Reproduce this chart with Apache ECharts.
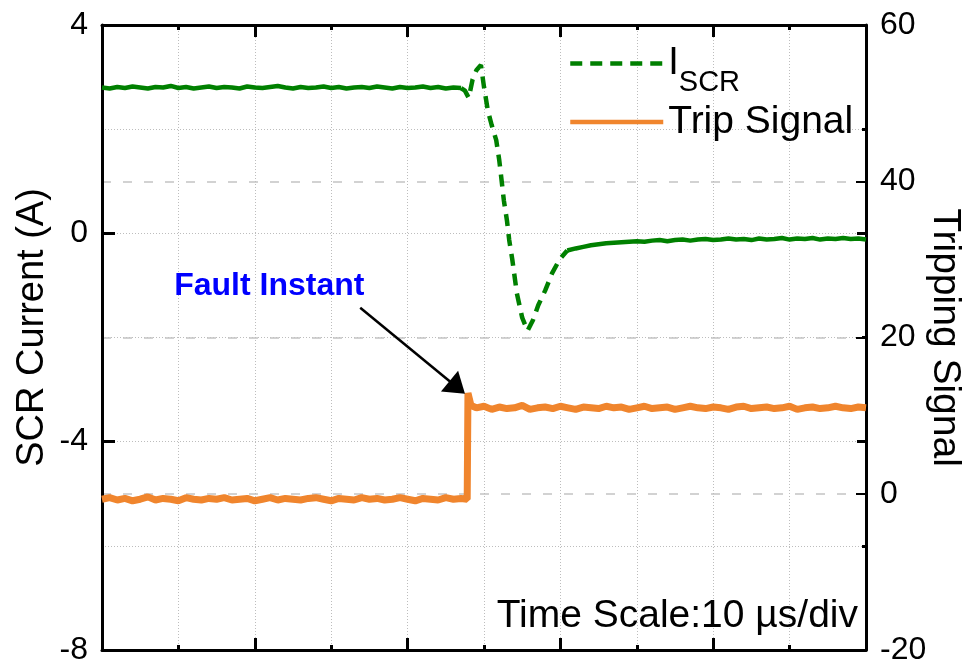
<!DOCTYPE html>
<html>
<head>
<meta charset="utf-8">
<script src="https://cdn.jsdelivr.net/npm/echarts@6.0.0/dist/echarts.min.js"></script>
<style>
html,body{margin:0;padding:0;background:#fff;}
#chart{width:976px;height:664px;}
</style>
</head>
<body>
<div id="chart"></div>
<script>
// ---- Data (time in µs, 10 µs/div) ----
// I_SCR (A) before the fault
const iscrPre = [
  [0,2.80],[1,2.78],[2,2.81],[3,2.79],[4,2.82],[5,2.80],[6,2.78],[7,2.81],[8,2.80],[9,2.83],
  [10,2.79],[11,2.81],[12,2.78],[13,2.80],[14,2.82],[15,2.79],[16,2.81],[17,2.80],[18,2.78],[19,2.82],
  [20,2.80],[21,2.79],[22,2.81],[23,2.83],[24,2.80],[25,2.78],[26,2.81],[27,2.79],[28,2.80],[29,2.82],
  [30,2.79],[31,2.81],[32,2.78],[33,2.80],[34,2.81],[35,2.79],[36,2.82],[37,2.80],[38,2.78],[39,2.81],
  [40,2.79],[41,2.80],[42,2.82],[43,2.79],[44,2.81],[45,2.78],[46,2.80],[47,2.79]
];
// I_SCR (A) during the fault transient
const iscrFault = [
  [47,2.79],[47.5,2.74],[48,2.60],[48.5,2.95],[49,3.13],[49.6,3.23],[50,2.81],[50.5,2.36],
  [51,2.08],[51.6,1.79],[52,1.40],[52.3,1.02],[52.6,0.63],[53,0.25],[53.3,-0.13],[53.7,-0.50],
  [54.3,-1.15],[55,-1.62],[55.7,-1.87],[56.4,-1.67],[57.1,-1.38],[58,-1.10],[58.9,-0.77],
  [59.9,-0.50],[60.9,-0.33]
];
// I_SCR (A) after the transient
const iscrPost = [
  [60.9,-0.33],[62,-0.29],[63,-0.26],[64,-0.23],[65,-0.21],[66,-0.19],[67,-0.18],[68,-0.17],[69,-0.16],
  [70,-0.15],[71,-0.16],[72,-0.14],[73,-0.13],[74,-0.15],[75,-0.13],[76,-0.12],[77,-0.14],[78,-0.12],
  [79,-0.11],[80,-0.13],[81,-0.12],[82,-0.10],[83,-0.12],[84,-0.11],[85,-0.13],[86,-0.10],[87,-0.12],
  [88,-0.11],[89,-0.09],[90,-0.12],[91,-0.10],[92,-0.11],[93,-0.09],[94,-0.12],[95,-0.10],[96,-0.11],
  [97,-0.09],[98,-0.11],[99,-0.10],[100,-0.12]
];
// Trip signal (right axis)
const tripSignal = [
  [0,-0.7],[1,-0.5],[2,-0.8],[3,-0.6],[4,-0.9],[5,-0.7],[6,-0.4],[7,-0.8],[8,-0.6],[9,-0.7],
  [10,-0.9],[11,-0.5],[12,-0.7],[13,-0.8],[14,-0.6],[15,-0.7],[16,-0.5],[17,-0.8],[18,-0.7],[19,-0.6],
  [20,-0.9],[21,-0.7],[22,-0.5],[23,-0.8],[24,-0.6],[25,-0.7],[26,-0.8],[27,-0.6],[28,-0.5],[29,-0.7],
  [30,-0.9],[31,-0.6],[32,-0.7],[33,-0.8],[34,-0.5],[35,-0.7],[36,-0.6],[37,-0.8],[38,-0.7],[39,-0.5],
  [40,-0.7],[41,-0.9],[42,-0.6],[43,-0.7],[44,-0.8],[45,-0.5],[46,-0.7],[47,-0.6],[47.8,-0.7],
  [47.9,12.9],[48.3,11.3],
  [49,11.0],[50,11.2],[51,10.8],[52,11.1],[53,10.9],[54,11.0],[55,11.3],[56,10.8],[57,11.0],[58,11.1],
  [59,10.9],[60,11.2],[61,11.0],[62,10.8],[63,11.1],[64,11.0],[65,10.9],[66,11.2],[67,11.0],[68,11.1],
  [69,10.8],[70,11.0],[71,11.2],[72,10.9],[73,11.0],[74,11.1],[75,10.8],[76,11.0],[77,11.2],[78,11.0],
  [79,10.9],[80,11.1],[81,11.0],[82,10.8],[83,11.1],[84,11.2],[85,10.9],[86,11.0],[87,11.1],[88,10.9],
  [89,11.0],[90,11.2],[91,10.8],[92,11.0],[93,11.1],[94,10.9],[95,11.0],[96,11.2],[97,11.0],[98,10.9],
  [99,11.1],[100,11.0]
];
// Axis ranges / ticks
const xRange = [0, 100];        // 10 µs per division
const leftRange = [-8, 4];      // SCR current (A)
const rightRange = [-20, 60];   // Tripping signal
// Annotation (in data units: time, tripping-signal axis)
const faultLabelAt = [21.9, 26.6];
const faultArrowFrom = [33.8, 23.8];
const faultArrowTo = [46.5, 13.6];

const FONT = 'Liberation Sans, Arial, Helvetica, sans-serif';
const GREEN = '#008000';
const ORANGE = '#F0852D';
const dotted = {color:'#bdbdbd', width:1, type:[1,2]};
const gridBox = {left:102, right:110, top:25, bottom:14, outerBoundsMode:'none', containLabel:false};

const chart = echarts.init(document.getElementById('chart'), null, {renderer:'canvas'});

const xBase = {
  type:'value', min:xRange[0], max:xRange[1], interval:20,
  axisLine:{show:true, onZero:false, lineStyle:{color:'#000', width:3}},
  axisTick:{show:true, inside:true, length:12, lineStyle:{color:'#000', width:3}},
  minorTick:{show:true, splitNumber:2, length:5, lineStyle:{color:'#000', width:3}},
  axisLabel:{show:false}
};

const option = {
  animation:false,
  backgroundColor:'#fff',
  grid:[Object.assign({}, gridBox), Object.assign({}, gridBox)],
  legend:[
    {
      data:['ISCR'], orient:'vertical', left:568, top:30, padding:0,
      itemWidth:93, itemHeight:14, itemGap:0, selectedMode:false,
      itemStyle:{opacity:0}, lineStyle:{width:4.5},
      formatter:function(){ return '{i|I}{s|SCR}'; },
      textStyle:{color:'#000', fontFamily:FONT, fontSize:38,
        rich:{
          i:{fontSize:38, lineHeight:40, fontFamily:FONT, color:'#000'},
          s:{fontSize:29, lineHeight:28, padding:[38,0,0,0], fontFamily:FONT, color:'#000'}
        }}
    },
    {
      data:['Trip Signal'], orient:'vertical', left:568, top:102, padding:0,
      itemWidth:93, itemHeight:14, itemGap:0, selectedMode:false,
      itemStyle:{opacity:0}, lineStyle:{width:4.5},
      textStyle:{color:'#000', fontFamily:FONT, fontSize:39, lineHeight:40}
    }
  ],
  xAxis:[
    Object.assign({}, xBase, {
      gridIndex:0, position:'bottom',
      splitLine:{show:true, lineStyle:dotted},
      minorSplitLine:{show:true, lineStyle:dotted}
    }),
    Object.assign({}, xBase, {
      gridIndex:0, position:'top',
      splitLine:{show:false}, minorSplitLine:{show:false}
    }),
    {type:'value', gridIndex:1, min:xRange[0], max:xRange[1], show:false,
      axisLine:{onZero:false}}
  ],
  yAxis:[
    {
      type:'value', gridIndex:0, position:'left', min:leftRange[0], max:leftRange[1], interval:4,
      name:'SCR Current (A)', nameLocation:'middle', nameGap:50, nameRotate:90, nameMoveOverlap:false,
      nameTextStyle:{fontSize:38, fontFamily:FONT, color:'#000', padding:[0,0,0,20]},
      axisLine:{show:true, onZero:false, lineStyle:{color:'#000', width:3}},
      axisTick:{show:true, inside:true, length:13, lineStyle:{color:'#000', width:3}},
      minorTick:{show:false, splitNumber:2},
      axisLabel:{show:true, fontSize:32, fontFamily:FONT, color:'#000', margin:14},
      splitLine:{show:true, lineStyle:dotted},
      minorSplitLine:{show:true, lineStyle:dotted}
    },
    {
      type:'value', gridIndex:0, position:'right', min:rightRange[0], max:rightRange[1], interval:20,
      name:'Tripping Signal', nameLocation:'middle', nameGap:59, nameRotate:-90, nameMoveOverlap:false,
      nameTextStyle:{fontSize:39, fontFamily:FONT, color:'#000'},
      axisLine:{show:true, onZero:false, lineStyle:{color:'#000', width:3}},
      axisTick:{show:true, inside:true, length:10, lineStyle:{color:'#000', width:2}},
      axisLabel:{show:true, fontSize:32, fontFamily:FONT, color:'#000', margin:14},
      splitLine:{show:true, lineStyle:{color:'#c4c4c4', width:1.5, type:[9,12]}}
    },
    {
      // mirrored current-axis ticks on the right frame
      type:'value', gridIndex:1, position:'right', min:leftRange[0], max:leftRange[1], interval:4,
      axisLine:{show:false, onZero:false},
      axisTick:{show:true, inside:true, length:9, lineStyle:{color:'#000', width:3}},
      minorTick:{show:true, splitNumber:2, length:4, lineStyle:{color:'#000', width:3}},
      axisLabel:{show:false},
      splitLine:{show:false}
    }
  ],
  series:[
    {
      name:'ISCR', type:'line', xAxisIndex:0, yAxisIndex:0, data:iscrFault,
      symbol:'none', z:3,
      lineStyle:{color:GREEN, width:4.5, type:[12,8]}, itemStyle:{color:GREEN}
    },
    {
      name:'ISCR', type:'line', xAxisIndex:0, yAxisIndex:0, data:iscrPre,
      symbol:'none', z:3,
      lineStyle:{color:GREEN, width:4.5}, itemStyle:{color:GREEN}
    },
    {
      name:'ISCR', type:'line', xAxisIndex:0, yAxisIndex:0, data:iscrPost,
      symbol:'none', z:3,
      lineStyle:{color:GREEN, width:4.5}, itemStyle:{color:GREEN}
    },
    {
      name:'Trip Signal', type:'line', xAxisIndex:0, yAxisIndex:1, data:tripSignal,
      symbol:'none', z:2,
      lineStyle:{color:ORANGE, width:7}, itemStyle:{color:ORANGE},
      markPoint:{
        silent:true, symbol:'rect', symbolSize:1,
        itemStyle:{color:'rgba(0,0,0,0)'},
        label:{show:true, position:'inside', formatter:'Fault Instant',
          color:'#0000FF', fontWeight:'bold', fontSize:32, fontFamily:FONT},
        data:[{coord:faultLabelAt}]
      },
      markLine:{
        silent:true, symbol:['none','triangle'], symbolSize:[27,20],
        label:{show:false},
        lineStyle:{color:'#000', width:2.5, type:'solid'},
        emphasis:{disabled:true},
        data:[[{coord:faultArrowFrom},{coord:faultArrowTo}]]
      }
    }
  ],
  graphic:[
    {
      type:'text', right:118, top:597, z:10,
      style:{text:'Time Scale:10 µs/div', font:'39px ' + FONT, fill:'#000'}
    }
  ]
};
chart.setOption(option);
</script>
</body>
</html>
